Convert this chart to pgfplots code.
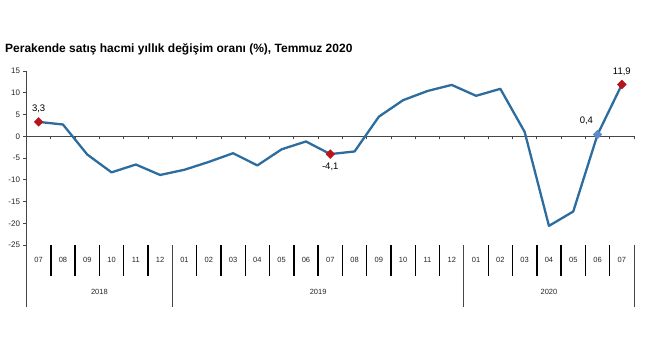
\documentclass[border=0pt]{standalone}
\usepackage{pgfplots}
\pgfplotsset{compat=1.18}
\usepackage{fontspec}
\setmainfont{Liberation Sans}
\definecolor{linec}{RGB}{44,108,158}
\definecolor{redm}{RGB}{185,20,30}
\definecolor{bluem}{RGB}{90,140,200}
\definecolor{axc}{RGB}{70,70,70}
\begin{document}
\begin{tikzpicture}[x=1pt,y=1pt]
\path[use as bounding box] (0,0) rectangle (650,360);
\node[anchor=base west, inner sep=0pt, font=\bfseries\fontsize{12}{14}\selectfont] at (5,308) {Perakende satış hacmi yıllık değişim oranı (\%), Temmuz 2020};
\begin{axis}[at={(26.5pt,115pt)}, anchor=south west, scale only axis,
  width=607.5pt, height=174pt,
  xmin=-0.5, xmax=24.5, ymin=-25, ymax=15,
  axis y line=left, axis x line=middle,
  axis line style={-, draw=axc, line width=0.8pt},
  ytick={-25,-20,...,15}, xtick={0.5,1.5,...,24.5}, xticklabels={},
  tick align=outside, major tick length=3pt,
  tick style={axc, line width=0.8pt},
  yticklabel style={font=\fontsize{8}{9}\selectfont, text=black!85},
  /pgf/number format/assume math mode=true,
  clip=false]
\addplot[linec, line width=2.3pt, line join=round] coordinates {
(0,3.3)(1,2.7)(2,-4.2)(3,-8.3)(4,-6.5)(5,-8.9)(6,-7.7)(7,-5.9)(8,-3.9)(9,-6.7)(10,-3.0)(11,-1.2)(12,-4.1)(13,-3.5)(14,4.5)(15,8.3)(16,10.4)(17,11.8)(18,9.3)(19,10.9)(20,1.0)(21,-20.6)(22,-17.3)(23,0.4)(24,11.9)};
\addplot[only marks, mark=square*, mark size=3.1pt, mark options={rotate=45}, color=redm] coordinates {(0,3.3)(12,-4.1)(24,11.9)};
\addplot[only marks, mark=square*, mark size=3.1pt, mark options={rotate=45}, color=bluem] coordinates {(23,0.4)};
\node[font=\fontsize{9.5}{11}\selectfont, anchor=south] at (axis cs:0,3.3) [yshift=6pt] {3,3};
\node[font=\fontsize{9.5}{11}\selectfont, anchor=north] at (axis cs:12,-4.1) [yshift=-5pt] {-4,1};
\node[font=\fontsize{9.5}{11}\selectfont, anchor=south east] at (axis cs:23,0.4) [yshift=6pt, xshift=-1pt] {0,4};
\node[font=\fontsize{9.5}{11}\selectfont, anchor=south] at (axis cs:24,11.9) [yshift=5pt] {11,9};
\end{axis}
\foreach \m [count=\i from 0] in {07,08,09,10,11,12,01,02,03,04,05,06,07,08,09,10,11,12,01,02,03,04,05,06,07}
  \node[font=\fontsize{7.5}{9}\selectfont, text=black!85] at ({26.5+24.3*(\i+0.5)},100) {\m};
\foreach \k in {1,2,3,4,5,7,8,9,10,11,12,13,14,15,16,17,19,20,21,22,23,24}
  \draw[black, line width=1.4pt] ({26.5+24.3*\k},115) -- ({26.5+24.3*\k},84);
\foreach \k in {0,6,18,25}
  \draw[axc, line width=0.9pt] ({26.5+24.3*\k},115) -- ({26.5+24.3*\k},53);
\node[font=\fontsize{7.5}{9}\selectfont, text=black!85] at ({26.5+24.3*3},68) {2018};
\node[font=\fontsize{7.5}{9}\selectfont, text=black!85] at ({26.5+24.3*12},68) {2019};
\node[font=\fontsize{7.5}{9}\selectfont, text=black!85] at ({26.5+24.3*21.5},68) {2020};
\end{tikzpicture}
\end{document}
